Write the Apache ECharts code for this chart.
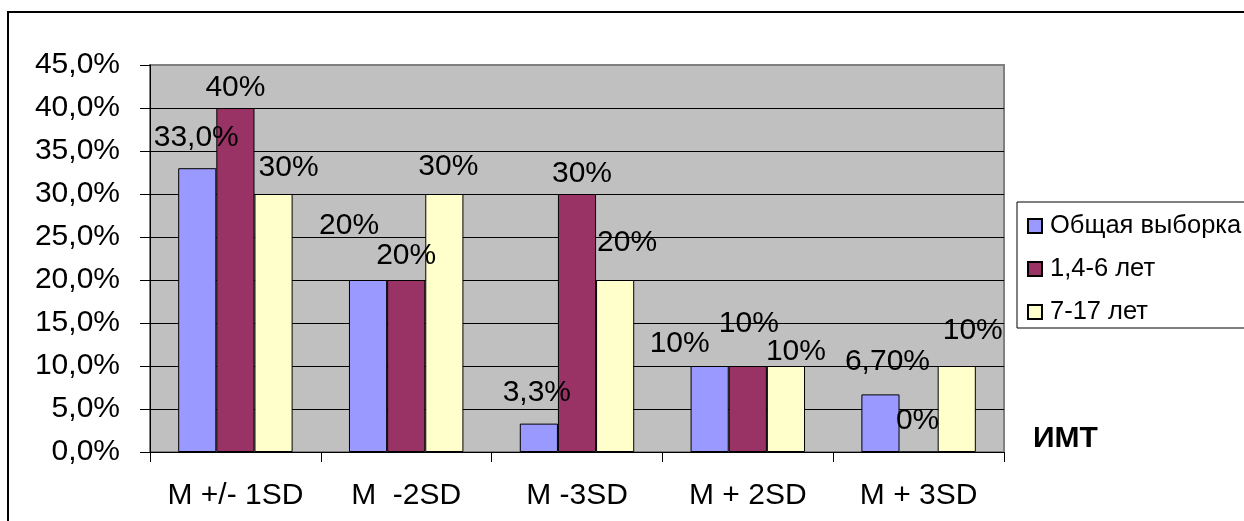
<!DOCTYPE html>
<html>
<head>
<meta charset="utf-8">
<script src="https://cdn.jsdelivr.net/npm/echarts@6/dist/echarts.min.js"></script>
<style>
html,body{margin:0;padding:0;background:#fff;}
#chart{width:1244px;height:521px;}
</style>
</head>
<body>
<div id="chart"></div>
<script>
// ---- data ----
const categories = ['M +/- 1SD', 'M  -2SD', 'M -3SD', 'M + 2SD', 'M + 3SD'];
const seriesNames = ['Общая выборка', '1,4-6 лет', '7-17 лет'];
const valuesTotal = [33.0, 20, 3.3, 10, 6.7];
const valuesYoung = [40, 20, 30, 10, 0];
const valuesOld = [30, 30, 20, 10, 10];
const labelsTotal = ['33,0%', '20%', '3,3%', '10%', '6,70%'];
const labelsYoung = ['40%', '20%', '30%', '10%', '0%'];
const labelsOld = ['30%', '30%', '20%', '10%', '10%'];
const yTickLabels = ['0,0%', '5,0%', '10,0%', '15,0%', '20,0%', '25,0%', '30,0%', '35,0%', '40,0%', '45,0%'];
const axisTitle = 'ИМТ';

// ---- styling (label nudges, as in the source) ----
const offsetsTotal = [[-1,-15],[-19,-39],[-2,-16],[-30,-7],[7,-18]];
const offsetsYoung = [[0,-5],[0,-9],[5,-5],[1,-27],[-1,-16]];
const offsetsOld = [[15,-11],[4,-12],[12,-22],[10,1],[16,-20]];
const colors = ['#9999ff', '#993366', '#ffffcc'];
const FONT = "'Liberation Sans', Arial, sans-serif";

function buildData(values, labels, offsets) {
  return values.map((v, i) => ({
    value: v,
    label: { formatter: labels[i], offset: offsets[i] }
  }));
}

const valueSets = [valuesTotal, valuesYoung, valuesOld];
const labelSets = [labelsTotal, labelsYoung, labelsOld];
const offsetSets = [offsetsTotal, offsetsYoung, offsetsOld];

const chart = echarts.init(document.getElementById('chart'), null, {renderer: 'canvas'});
chart.setOption({
  animation: false,
  textStyle: { fontFamily: FONT },
  grid: {
    left: 150, top: 65, right: 240, bottom: 69,
    show: true, backgroundColor: '#c0c0c0', borderColor: '#808080', borderWidth: 2
  },
  legend: {
    orient: 'vertical',
    left: 1017, top: 202,
    backgroundColor: '#ffffff',
    borderColor: '#000000', borderWidth: 1,
    padding: [11, 10, 3, 10],
    itemWidth: 14, itemHeight: 14, itemGap: 17,
    icon: 'rect',
    textStyle: { fontSize: 25.5, color: '#000', fontFamily: FONT, padding: [0,0,0,3] },
    data: seriesNames
  },
  xAxis: {
    type: 'category',
    data: categories,
    axisLine: { show: true, lineStyle: { color: '#000', width: 1 } },
    axisTick: { show: true, length: 10, lineStyle: { color: '#000' } },
    axisLabel: { fontSize: 30, color: '#000', margin: 29, fontFamily: FONT, interval: 0 },
    splitLine: { show: false }
  },
  yAxis: {
    type: 'value',
    min: 0, max: 45, interval: 5,
    axisLine: { show: true, lineStyle: { color: '#000', width: 1 } },
    axisTick: { show: true, length: 10, lineStyle: { color: '#000' } },
    axisLabel: {
      fontSize: 30, color: '#000', margin: 30, fontFamily: FONT,
      formatter: v => yTickLabels[Math.round(v / 5)]
    },
    splitLine: { show: true, showMaxLine: false, lineStyle: { color: '#000', width: 1 } }
  },
  graphic: [
    {
      type: 'rect', z: 100, silent: true,
      shape: { x: 8, y: 12, width: 1400, height: 700 },
      style: { fill: 'none', stroke: '#000', lineWidth: 2 }
    },
    {
      type: 'text', left: 1033, top: 424, z: 100,
      style: { text: axisTitle, font: "bold 30px 'Liberation Sans', Arial, sans-serif", fill: '#000' }
    }
  ],
  series: seriesNames.map((name, k) => ({
    name: name,
    type: 'bar',
    barGap: '0%',
    barCategoryGap: '33%',
    itemStyle: { color: colors[k], borderColor: '#000', borderWidth: 1 },
    label: {
      show: true, position: 'top', distance: 0,
      fontSize: 30, color: '#000', fontFamily: FONT
    },
    data: buildData(valueSets[k], labelSets[k], offsetSets[k])
  }))
});
</script>
</body>
</html>
